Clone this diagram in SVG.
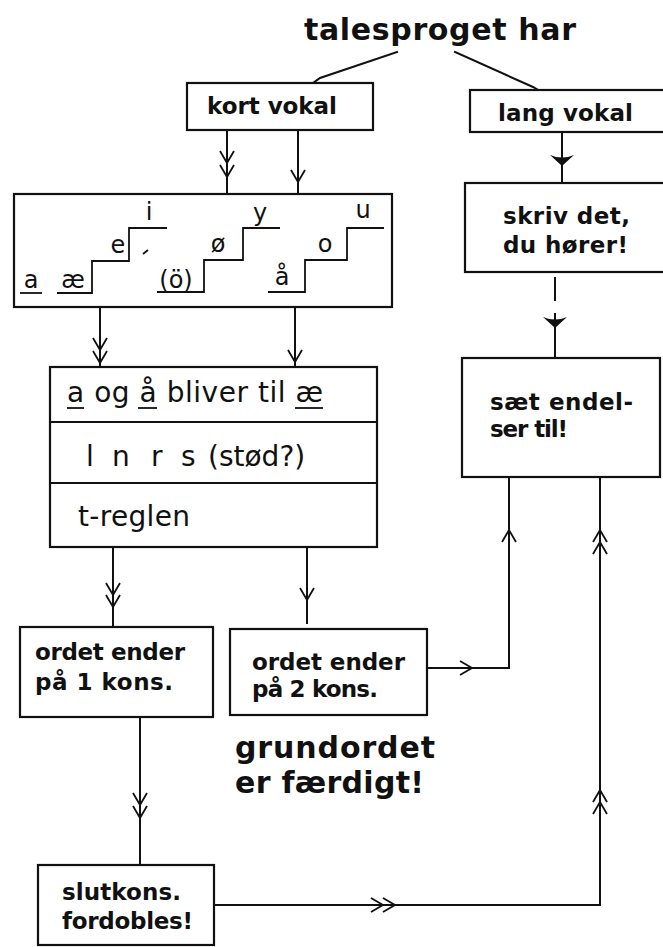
<svg xmlns="http://www.w3.org/2000/svg" width="663" height="947" viewBox="0 0 663 947">
  <style>
    .box { fill: #fff; stroke: #111; stroke-width: 2.2; }
    .rule { fill: none; stroke: #111; stroke-width: 2; }
    .line { fill: none; stroke: #111; stroke-width: 2; stroke-linecap: square; }
    .chev { fill: none; stroke: #111; stroke-width: 1.8; stroke-linejoin: miter; }
    .tri { fill: #111; stroke: none; }
    .stair { fill: none; stroke: #111; stroke-width: 1.8; }
    .lbl { font-family: "DejaVu Sans", Verdana, sans-serif; font-weight: bold; font-size: 23px; fill: #111; }
    .big { font-family: "DejaVu Sans", Verdana, sans-serif; font-weight: bold; font-size: 30px; fill: #111; }
    .rl { font-family: "DejaVu Sans", Verdana, sans-serif; font-size: 28px; fill: #111; }
    .vw { font-family: "DejaVu Sans", Verdana, sans-serif; font-size: 24px; fill: #111; text-anchor: middle; }
  </style>

  <rect width="663" height="947" fill="#fff"/>

  <!-- heading -->
  <g id="title">
    <text class="big" x="304" y="40" textLength="272">talesproget har</text>
  </g>

  <!-- connectors -->
  <g id="connectors">
    <!-- heading to the two branches -->
    <polyline class="line" points="397,52 320,78 313,83"/>
    <polyline class="line" points="455,52 533,87 540,91"/>

    <!-- kort vokal to vowel stairs -->
    <line class="line" x1="227" y1="130" x2="227" y2="194"/>
    <polyline class="chev" points="220,151 227,163 234,151"/>
    <polyline class="chev" points="220,165 227,177 234,165"/>
    <line class="line" x1="298" y1="130" x2="298" y2="194"/>
    <polyline class="chev" points="291,170 298,182 305,170"/>

    <!-- vowel stairs to rules -->
    <line class="line" x1="100" y1="307" x2="100" y2="367"/>
    <polyline class="chev" points="93,338 100,350 107,338"/>
    <polyline class="chev" points="93,351 100,363 107,351"/>
    <line class="line" x1="295" y1="307" x2="295" y2="367"/>
    <polyline class="chev" points="288,350 295,362 302,350"/>

    <!-- rules to word endings -->
    <line class="line" x1="113" y1="547" x2="113" y2="627"/>
    <polyline class="chev" points="106,583 113,595 120,583"/>
    <polyline class="chev" points="106,595 113,607 120,595"/>
    <line class="line" x1="307" y1="547" x2="307" y2="623"/>
    <polyline class="chev" points="300,588 307,600 314,588"/>

    <!-- one consonant to doubling -->
    <line class="line" x1="140" y1="717" x2="140" y2="865"/>
    <polyline class="chev" points="133,793 140,805 147,793"/>
    <polyline class="chev" points="133,806 140,818 147,806"/>

    <!-- two consonants to endings -->
    <polyline class="line" points="427,668 509,668 509,477"/>
    <polyline class="chev" points="460,661 472,668 460,675"/>
    <polyline class="chev" points="502,542 509,530 516,542"/>

    <!-- doubling to endings -->
    <polyline class="line" points="214,905 600,905 600,477"/>
    <polyline class="chev" points="371,898 383,905 371,912"/>
    <polyline class="chev" points="383,898 395,905 383,912"/>
    <polyline class="chev" points="593,802 600,790 607,802"/>
    <polyline class="chev" points="593,814 600,802 607,814"/>
    <polyline class="chev" points="593,542 600,530 607,542"/>
    <polyline class="chev" points="593,554 600,542 607,554"/>

    <!-- lang vokal to skriv det -->
    <line class="line" x1="562" y1="132" x2="562" y2="183"/>
    <path class="tri" d="M550,155 Q562,160 574,155 L562,166 Z"/>

    <!-- skriv det to endings -->
    <line class="line" x1="555" y1="278" x2="555" y2="300"/>
    <line class="line" x1="555" y1="314" x2="555" y2="358"/>
    <path class="tri" d="M543,317 Q555,322 567,317 L555,328 Z"/>
  </g>

  <g id="kort-vokal">
    <rect class="box" x="187" y="83" width="186" height="47"/>
    <text class="lbl" x="207" y="114" textLength="130">kort vokal</text>
  </g>

  <g id="lang-vokal">
    <rect class="box" x="470" y="90" width="200" height="42"/>
    <text class="lbl" x="498" y="121" textLength="135">lang vokal</text>
  </g>

  <g id="vokaltrappe">
    <rect class="box" x="14" y="194" width="378" height="113"/>
    <polyline class="stair" points="20,293 42,293"/>
    <polyline class="stair" points="57,293 92,293 92,261 129,261 129,228 167,228"/>
    <polyline class="stair" points="157,292 204,292 204,260 243,260 243,228 280,228"/>
    <polyline class="stair" points="268,292 305,292 305,260 347,260 347,228 384,228"/>
    <line class="stair" x1="143" y1="254" x2="148" y2="250" stroke-width="1.2"/>
    <text class="vw" x="31" y="288">a</text>
    <text class="vw" x="73" y="288">æ</text>
    <text class="vw" x="118" y="253">e</text>
    <text class="vw" x="149" y="220">i</text>
    <text class="vw" x="176" y="288">(ö)</text>
    <text class="vw" x="218" y="252">ø</text>
    <text class="vw" x="260" y="221">y</text>
    <text class="vw" x="282" y="285">å</text>
    <text class="vw" x="325" y="252">o</text>
    <text class="vw" x="363" y="218">u</text>
  </g>

  <g id="regler">
    <rect class="box" x="50" y="367" width="327" height="180"/>
    <line class="rule" x1="50" y1="422" x2="377" y2="422"/>
    <line class="rule" x1="50" y1="483" x2="377" y2="483"/>
    <text class="rl" x="67" y="402" textLength="256">a og å bliver til æ</text>
    <line class="stair" x1="67" y1="408" x2="84" y2="408" stroke-width="1.5"/>
    <line class="stair" x1="138" y1="408" x2="157" y2="408" stroke-width="1.5"/>
    <line class="stair" x1="295" y1="408" x2="323" y2="408" stroke-width="1.5"/>
    <text class="rl" y="466"><tspan x="86">l</tspan><tspan x="112">n</tspan><tspan x="151">r</tspan><tspan x="181">s</tspan><tspan x="208">(stød?)</tspan></text>
    <text class="rl" x="78" y="526" textLength="112">t-reglen</text>
  </g>

  <g id="skriv-det">
    <rect class="box" x="465" y="183" width="205" height="89"/>
    <text class="lbl" x="503" y="224" textLength="127">skriv det,</text>
    <text class="lbl" x="503" y="253" textLength="125">du hører!</text>
  </g>

  <g id="saet-endelser">
    <rect class="box" x="462" y="358" width="198" height="119"/>
    <text class="lbl" x="490" y="410" textLength="143">sæt endel-</text>
    <text class="lbl" x="490" y="437" textLength="78">ser til!</text>
  </g>

  <g id="en-konsonant">
    <rect class="box" x="20" y="627" width="193" height="90"/>
    <text class="lbl" x="35" y="660" textLength="150">ordet ender</text>
    <text class="lbl" x="35" y="690" textLength="138">på 1 kons.</text>
  </g>

  <g id="to-konsonanter">
    <rect class="box" x="230" y="629" width="197" height="86"/>
    <text class="lbl" x="252" y="670" textLength="153">ordet ender</text>
    <text class="lbl" x="252" y="697" textLength="126">på 2 kons.</text>
  </g>

  <g id="grundordet">
    <text class="big" x="235" y="758" font-size="28" textLength="200">grundordet</text>
    <text class="big" x="235" y="793" font-size="28" textLength="189">er færdigt!</text>
  </g>

  <g id="slutkonsonant">
    <rect class="box" x="38" y="865" width="176" height="80"/>
    <text class="lbl" x="62" y="900" textLength="119">slutkons.</text>
    <text class="lbl" x="62" y="929" textLength="131">fordobles!</text>
  </g>
</svg>
